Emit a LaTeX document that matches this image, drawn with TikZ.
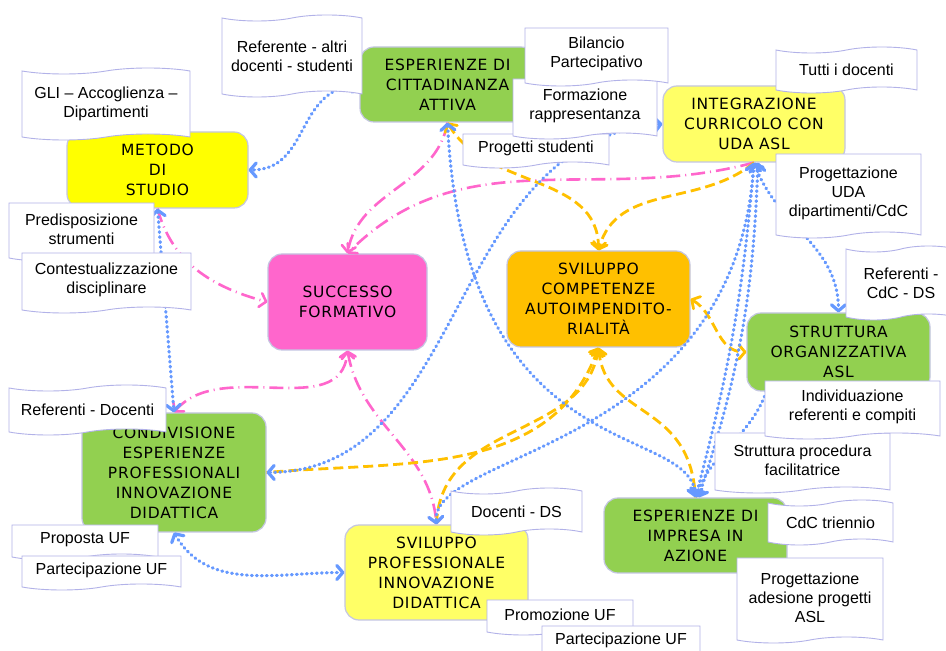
\documentclass[tikz,border=0pt]{standalone}
\usepackage{fontspec}
\setmainfont{Liberation Sans}
\newfontfamily\boxfont[LetterSpace=5]{DejaVu Sans}
\usepackage{tikz}
\usetikzlibrary{shapes.symbols, arrows.meta}

\definecolor{verde}{RGB}{146,208,80}
\definecolor{giallo}{RGB}{255,255,0}
\definecolor{giallino}{RGB}{255,255,102}
\definecolor{rosa}{RGB}{255,102,204}
\definecolor{arancio}{RGB}{255,192,0}
\definecolor{azzurro}{RGB}{102,153,255}
\definecolor{bordo}{RGB}{196,198,226}
\definecolor{lilla}{RGB}{178,178,232}

\tikzset{
  topic/.style={draw=bordo, line width=1.2pt, rounded corners=14pt, align=center,
    inner sep=3pt, text=black, font=\boxfont\fontsize{15.5}{20}\selectfont},
  note/.style={tape, draw=lilla, fill=white, line width=0.9pt, align=center,
    inner sep=2pt, tape bend height=6pt, font=\fontsize{16}{19}\selectfont},
  flat/.style={note, tape bend top=none},
  blueline/.style={azzurro, line width=3.2pt, line cap=round, dash pattern=on 0.8pt off 4.2pt},
  orangeline/.style={arancio, line width=2.8pt, dash pattern=on 10pt off 5pt},
  pinkline/.style={rosa, line width=2.6pt, dash pattern=on 14pt off 5pt on 1pt off 5pt},
  >={Straight Barb[length=6pt,width=14pt,round]}
}

\begin{document}
\begin{tikzpicture}[x=1pt, y=1pt]

\fill [white] ( 0, 0 ) rectangle ( 946, 651 );
\useasboundingbox ( 0, 0 ) rectangle ( 946, 651 );

% Topics
\node (metodo) at ( 157.5, 481 ) [topic, fill=giallo, minimum width=181pt, minimum height=76pt] {METODO\\DI\\STUDIO};
\node (cittadinanza) at ( 447.5, 566.5 ) [topic, fill=verde, minimum width=175pt, minimum height=75pt] {ESPERIENZE DI\\CITTADINANZA\\ATTIVA};
\node (integrazione) at ( 754, 527 ) [topic, fill=giallino, minimum width=182pt, minimum height=76pt] {INTEGRAZIONE\\CURRICOLO CON\\UDA ASL};
\node (successo) at ( 347.5, 349 ) [topic, fill=rosa, minimum width=159pt, minimum height=96pt] {SUCCESSO\\FORMATIVO};
\node (svilcomp) at ( 598.5, 352 ) [topic, fill=arancio, minimum width=183pt, minimum height=96pt] {SVILUPPO\\COMPETENZE\\AUTOIMPENDITO-\\RIALITÀ};
\node (struttura) at ( 838.5, 299 ) [topic, fill=verde, minimum width=183pt, minimum height=78pt] {STRUTTURA\\ORGANIZZATIVA\\ASL};
\node (condivisione) at ( 174, 178.5 ) [topic, fill=verde, minimum width=184pt, minimum height=119pt] {CONDIVISIONE\\ESPERIENZE\\PROFESSIONALI\\INNOVAZIONE\\DIDATTICA};
\node (svilprof) at ( 436.5, 78.5 ) [topic, fill=giallino, minimum width=183pt, minimum height=95pt] {SVILUPPO\\PROFESSIONALE\\INNOVAZIONE\\DIDATTICA};
\node (impresa) at ( 695.5, 115.5 ) [topic, fill=verde, minimum width=183pt, minimum height=75pt] {ESPERIENZE DI\\IMPRESA IN\\AZIONE};

% Pink links
\draw [pinkline, ->] (metodo.south) to[out=-75, in=165] (successo.west);
\draw [pinkline, ->] (cittadinanza.south) to[out=-100, in=80] (successo.north);
\draw [pinkline, ->] (integrazione.south) to[out=195, in=45] (successo.north);
\draw [pinkline, <->] (condivisione.north) to[out=50, in=-95] (successo.south);
\draw [pinkline, <->] (successo.south) to[out=-80, in=95] (svilprof.north);

% Orange links
\draw [orangeline, <->] (cittadinanza.south) to[out=-60, in=90] (svilcomp.north);
\draw [orangeline, ->] (integrazione.south) to[out=220, in=75] (svilcomp.north);
\draw [orangeline, <->] (svilcomp.east) to[out=-30, in=180] (struttura.west);
\draw [orangeline, <-] (svilcomp.south) to[out=-110, in=5] (condivisione.east);
\draw [orangeline, <-] (svilcomp.south) .. controls ( 585, 211 ) and ( 440, 231 ) .. (svilprof.north);
\draw [orangeline, <-] (svilcomp.south) .. controls ( 605, 231 ) and ( 690, 251 ) .. (impresa.north);

% Blue links
\draw [blueline, <->] (cittadinanza.west) .. controls ( 295, 561 ) and ( 310, 481 ) .. (metodo.east);
\draw [blueline, <->] (metodo.south) -- (condivisione.north);
\draw [blueline, <->] (condivisione.east) .. controls ( 470, 180 ) and ( 445, 510 ) .. (integrazione.west);
\draw [blueline, <->] (cittadinanza.south) .. controls ( 465, 180 ) and ( 690, 230 ) .. (impresa.north);
\draw [blueline, <->] (integrazione.south) to[bend left=5] (impresa.north);
\draw [blueline, <->] ([xshift=4pt]integrazione.south) to[bend left=8] ([xshift=3pt]impresa.north);
\draw [blueline, <->] (integrazione.south) .. controls ( 735, 200 ) and ( 430, 200 ) .. (svilprof.north);
\draw [blueline, <->] (integrazione.south) to[out=-70, in=90] (struttura.north);
\draw [blueline, ->] ([xshift=20pt]struttura.south west) to[out=-110, in=70] (impresa.north);
\draw [blueline, <->] (condivisione.south) to[out=-60, in=180] (svilprof.west);

% Labels
\node (gli) at ( 106, 547 ) [note, minimum width=168pt, minimum height=72pt] {GLI – Accoglienza –\\Dipartimenti};
\node (referente) at ( 292, 595 ) [note, minimum width=140pt, minimum height=82pt] {Referente - altri\\docenti - studenti};
\node (progetti) at ( 536, 503 ) [flat, minimum width=146pt, minimum height=34pt] {Progetti studenti};
\node (formazione) at ( 585, 545 ) [flat, minimum width=144pt, minimum height=60pt] {Formazione\\rappresentanza};
\node (bilancio) at ( 596.5, 597 ) [flat, minimum width=143pt, minimum height=58pt] {Bilancio\\Partecipativo};
\node (tutti) at ( 846.5, 581 ) [note, minimum width=141pt, minimum height=46pt] {Tutti i docenti};
\node (progUDA) at ( 848.5, 458 ) [flat, minimum width=145pt, minimum height=84pt] {Progettazione\\UDA\\dipartimenti/CdC};
\node (predisposizione) at ( 81.5, 422 ) [flat, minimum width=145pt, minimum height=58pt] {Predisposizione\\strumenti};
\node (contestualizzazione) at ( 106.5, 371 ) [flat, minimum width=169pt, minimum height=60pt] {Contestualizzazione\\disciplinare};
\node (refCdC) at ( 901, 368 ) [note, minimum width=110pt, minimum height=74pt] {Referenti -\\CdC - DS};
\node (strutproc) at ( 802.5, 191 ) [flat, minimum width=175pt, minimum height=60pt] {Struttura procedura\\facilitatrice};
\node (individuazione) at ( 852.5, 244 ) [flat, minimum width=175pt, minimum height=58pt] {Individuazione\\referenti e compiti};
\node (refDoc) at ( 87.5, 241 ) [note, minimum width=157pt, minimum height=50pt] {Referenti - Docenti};
\node (proposta) at ( 85, 111.5 ) [flat, minimum width=146pt, minimum height=35pt] {Proposta UF};
\node (partUFa) at ( 101.5, 81 ) [flat, minimum width=159pt, minimum height=34pt] {Partecipazione UF};
\node (docentiDS) at ( 516.5, 139.5 ) [note, minimum width=131pt, minimum height=47pt] {Docenti - DS};
\node (cdc) at ( 830.5, 128.5 ) [note, minimum width=125pt, minimum height=45pt] {CdC triennio};
\node (progASL) at ( 810, 53.5 ) [flat, minimum width=146pt, minimum height=85pt] {Progettazione\\adesione progetti\\ASL};
\node (promozione) at ( 560, 36.5 ) [flat, minimum width=146pt, minimum height=35pt] {Promozione UF};
\node (partUFb) at ( 621, 10.5 ) [flat, minimum width=158pt, minimum height=35pt] {Partecipazione UF};

\end{tikzpicture}
\end{document}
